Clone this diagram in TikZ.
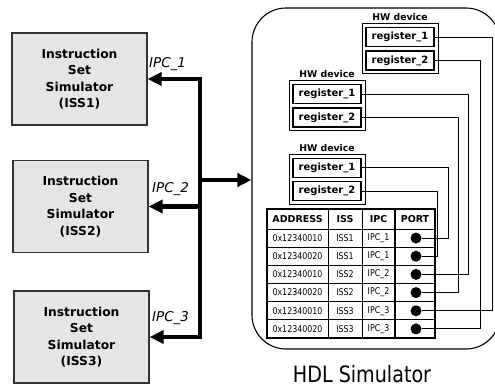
\documentclass[tikz,border=0pt]{standalone}
\usepackage{fontspec}
\setmainfont{DejaVu Sans}
\newfontfamily\narrowfont[FakeStretch=0.85]{DejaVu Sans}
\usetikzlibrary{arrows.meta,positioning}

\tikzset{
  simbox/.style={draw=black!80, line width=1.2pt, fill=black!10,
    minimum width=135pt, minimum height=92pt, align=center,
    font=\bfseries\fontsize{12.3}{16.5}\selectfont},
  bus/.style={line width=4.5pt},
  ipc/.style={anchor=west, inner sep=0pt, font=\itshape\fontsize{13.5}{16}\selectfont},
  device/.style={draw, line width=1pt, minimum width=76pt, minimum height=50pt},
  devtitle/.style={inner sep=1pt, font=\bfseries\fontsize{9.3}{11}\selectfont},
  regbox/.style={draw, line width=1.4pt, minimum width=68pt, minimum height=19pt,
    inner sep=0pt, font=\bfseries\fontsize{10}{12}\selectfont},
  hdr/.style={inner sep=0pt, font=\bfseries\fontsize{9.5}{11}\selectfont},
  cell/.style={inner sep=0pt, font=\narrowfont\fontsize{9.3}{11}\selectfont},
  port/.style={circle, fill, inner sep=0pt, minimum size=11pt},
  wire/.style={line width=0.9pt},
}

\begin{document}
\begin{tikzpicture}[x=1pt,y=-1pt,>={Triangle[length=14pt,width=13pt]}]
\useasboundingbox (0,0) rectangle (495,388);

% The simulators
\node[simbox] (sim1) at (79.5,79)  {Instruction\\Set\\Simulator\\(ISS1)};
\node[simbox] (sim2) at (80.5,206.5) {Instruction\\Set\\Simulator\\(ISS2)};
\node[simbox] (sim3) at (81.5,337) {Instruction\\Set\\Simulator\\(ISS3)};

% The HDL simulator
\node[draw, line width=1.1pt, rounded corners=34pt, inner sep=0pt,
  minimum width=248pt, minimum height=341pt] (hdl) at (376,178.5) {};
\node[font=\narrowfont\fontsize{22.5}{26}\selectfont] (hdlname) at (362,374) {HDL Simulator};

% The bus
\coordinate (bus) at (200,180);
\draw[bus,->] (bus) |- (sim1.east);
\draw[bus,->] (bus) |- (sim3.east);
\draw[bus,->] (bus |- sim2.east) -- (sim2.east);
\draw[bus,->] (bus) -- (bus -| hdl.west);
\node[ipc] (ipc1) at (149,64)  {IPC\_1};
\node[ipc] (ipc2) at (152,189) {IPC\_2};
\node[ipc] (ipc3) at (152,318) {IPC\_3};

% The devices
\node[device] (dev1) at (400,48.5) {};
\node[device] (dev2) at (327,105.5) {};
\node[device] (dev3) at (327,179) {};
\foreach \d in {1,2,3} {
  \node[devtitle, above=1pt of dev\d] (title\d) {HW device};
  \node[regbox, below=4pt of dev\d.north] (d\d r1) {register\_1};
  \node[regbox, below=3pt of d\d r1] (d\d r2) {register\_2};
}

% The table
\draw[line width=0.8pt] (267,229) -- (435,229);
\foreach \r in {1,...,5}
  \draw[line width=0.8pt] (267,229+\r*18.17) -- (435,229+\r*18.17);
\foreach \x in {328,362}
  \draw[line width=0.8pt] (\x,209) -- (\x,338);
\draw[line width=2pt] (395,209) -- (395,338);
\draw[line width=1.6pt] (267,209) rectangle (435,338);
\node[hdr] (haddr) at (297.5,219) {ADDRESS};
\node[hdr] (hiss)  at (345,219)   {ISS};
\node[hdr] (hipc)  at (378.5,219) {IPC};
\node[hdr] (hport) at (415,219)   {PORT};
\foreach \r/\a/\s in {1/0x12340010/1, 2/0x12340020/1, 3/0x12340010/2,
                      4/0x12340020/2, 5/0x12340010/3, 6/0x12340020/3} {
  \node[cell] (addr\r) at (297.5,219.9+\r*18.17) {\a};
  \node[cell] (cpu\r)  at (345,219.9+\r*18.17)   {ISS\s};
  \node[cell] (ipc\r)  at (378.5,219.9+\r*18.17) {IPC\_\s};
  \node[port] (p\r)    at (416,219.9+\r*18.17)   {};
}

% The wires
\foreach \p/\r/\x in {1/d3r1/448, 2/d3r2/437, 3/d2r1/468,
                      4/d2r2/458, 5/d1r1/492, 6/d1r2/480} {
  \coordinate (w\p) at (\x,0);
  \draw[wire] (\r.east) -| (w\p |- p\p) -- (p\p);
}
\end{tikzpicture}
\end{document}
